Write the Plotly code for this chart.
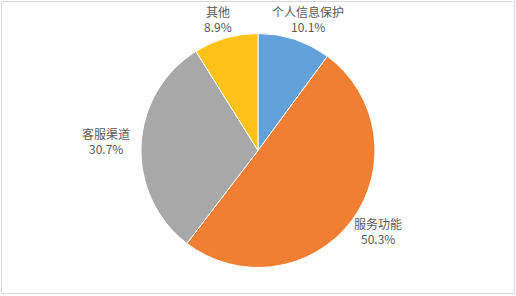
import plotly.graph_objects as go

labels = ["个人信息保护", "服务功能", "客服渠道", "其他"]
values = [10.1, 50.3, 30.7, 8.9]
colors = ["#64A0D9", "#F07F33", "#A8A8A8", "#FFC21A"]

W, H = 516, 296
cx, cy, R = 258, 150.5, 117

fig = go.Figure(go.Pie(
    labels=labels, values=values, sort=False, direction="clockwise", rotation=0,
    marker=dict(colors=colors, line=dict(color="white", width=1)),
    textinfo="none", hoverinfo="label+percent", showlegend=False,
    domain=dict(x=[(cx - R) / W, (cx + R) / W], y=[1 - (cy + R) / H, 1 - (cy - R) / H]),
))

# label block centre positions (pixels) for each slice
label_pos = [(308, 18.5), (378, 230.5), (106, 140.5), (218, 18.5)]
font = dict(family="Noto Sans CJK SC", size=12, color="#595959")
for lab, val, (px, py) in zip(labels, values, label_pos):
    for txt, dy in ((lab, -7.5), (f"{val:.1f}%", 8)):
        fig.add_annotation(
            x=px / W, y=1 - (py + dy) / H, xref="paper", yref="paper",
            text=txt, showarrow=False, font=font,
            xanchor="center", yanchor="middle", align="center",
            borderpad=0,
        )

fig.add_shape(type="rect", xref="paper", yref="paper",
              x0=1.5 / W, x1=514.5 / W, y0=1 - 293.5 / H, y1=1 - 1.5 / H,
              line=dict(color="#D9D9D9", width=1))

fig.update_layout(width=W, height=H, margin=dict(l=0, r=0, t=0, b=0),
                  paper_bgcolor="white", plot_bgcolor="white")
fig.write_html("out.html")
